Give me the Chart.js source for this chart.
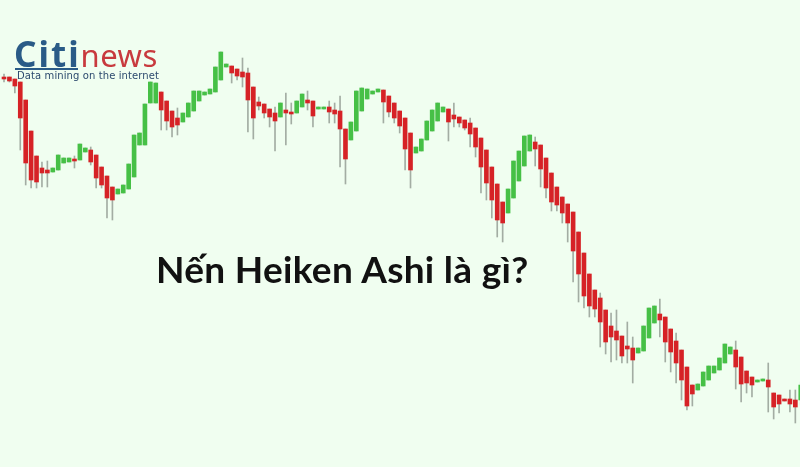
<!DOCTYPE html>
<html>
<head>
<meta charset="utf-8">
<script src="https://cdn.jsdelivr.net/npm/chart.js@4"></script>
<style>
  html, body { margin: 0; padding: 0; background: #f0fef0; }
  #wrap { position: relative; width: 800px; height: 467px; overflow: hidden; }
  #title {
    position: absolute; left: 156px; top: 246px;
    font-family: Lato, sans-serif; font-weight: 700; font-size: 37px; letter-spacing: 0.3px;
    color: #111; white-space: nowrap;
  }
  #logo { position: absolute; left: 14px; top: 30px; white-space: nowrap; }
  #logo .citi { font-family: "Noto Sans", sans-serif; font-size: 35px; font-weight: 700; color: #2a5b87; letter-spacing: 2px; }
  #logo .news { font-family: "Noto Sans", sans-serif; font-size: 31px; color: #c83a3e; letter-spacing: 0.5px; }
  #logo .line { position: absolute; left: 1px; top: 38px; width: 63px; height: 2px; background: #2a5b87; }
  #tag {
    position: absolute; left: 17px; top: 70px;
    font-family: "DejaVu Sans", sans-serif; font-size: 10px; letter-spacing: 0.1px;
    color: #2c4a6e; white-space: nowrap;
  }
</style>
</head>
<body>
<div id="wrap">
  <canvas id="chart"></canvas>
  <div id="logo"><span class="citi">Citi</span><span class="news">news</span><div class="line"></div></div>
  <div id="tag">Data mining on the internet</div>
  <div id="title">Nến Heiken Ashi là gì?</div>
</div>
<script>
// Heiken Ashi candles, one entry per bar (arbitrary price units)
const open = [
  403, 403, 401, 398, 380, 349, 324, 312, 310, 308, 310, 317, 318, 321, 320, 328, 330, 325, 313, 304,
  293, 286, 287, 291, 303, 335, 335, 377, 377, 388, 379, 369, 362, 358, 363, 369, 379, 385, 386, 388,
  400, 413, 414, 411, 408, 407, 393, 378, 376, 371, 367, 363, 370, 368, 367, 373, 380, 379, 371, 371,
  373, 370, 369, 351, 340, 349, 369, 381, 386, 388, 390, 384, 377, 369, 362, 347, 327, 329, 340, 349,
  359, 368, 371, 365, 363, 360, 357, 352, 342, 330, 313, 296, 278, 267, 282, 299, 314, 329, 338, 335,
  322, 307, 293, 283, 276, 268, 248, 227, 206, 190, 182, 170, 154, 149, 144, 134, 132, 127, 129, 142,
  157, 166, 163, 151, 139, 130, 113, 95, 90, 94, 100, 107, 110, 117, 126, 130, 123, 109, 103, 98,
  99, 100, 87, 85, 81, 81, 80, 80
];
const close = [
  401, 399, 394, 362, 317, 300, 298, 307, 307, 312, 325, 322, 322, 319, 336, 332, 318, 302, 295, 282,
  280, 291, 295, 316, 345, 347, 376, 398, 397, 370, 359, 353, 355, 367, 377, 389, 389, 388, 391, 413,
  428, 416, 407, 404, 403, 380, 362, 374, 367, 363, 359, 377, 367, 366, 379, 386, 377, 364, 373, 373,
  368, 366, 351, 321, 358, 389, 392, 391, 389, 391, 378, 368, 362, 354, 331, 310, 333, 341, 359, 370,
  377, 373, 358, 361, 357, 352, 346, 333, 313, 297, 280, 260, 257, 291, 319, 329, 344, 345, 331, 311,
  292, 278, 275, 267, 257, 229, 206, 184, 174, 171, 158, 138, 143, 140, 124, 131, 120, 132, 154, 172,
  174, 160, 138, 128, 117, 100, 74, 86, 96, 108, 114, 114, 122, 136, 133, 113, 96, 97, 95, 100,
  101, 93, 73, 76, 79, 76, 73, 95
];
const high = [
  406, 403, 401, 398, 380, 349, 324, 318, 319, 312, 325, 322, 322, 324, 336, 332, 333, 325, 313, 304,
  293, 291, 295, 316, 345, 347, 376, 398, 397, 388, 379, 369, 372, 367, 377, 389, 389, 388, 391, 413,
  428, 416, 414, 411, 422, 412, 393, 383, 376, 371, 373, 377, 387, 377, 379, 386, 389, 379, 373, 373,
  379, 377, 384, 351, 358, 389, 392, 391, 389, 391, 390, 384, 377, 369, 362, 347, 333, 341, 359, 370,
  377, 373, 371, 377, 363, 360, 362, 352, 342, 330, 313, 296, 278, 291, 319, 329, 344, 345, 343, 335,
  322, 307, 293, 283, 276, 268, 248, 227, 206, 190, 187, 170, 167, 170, 144, 158, 143, 132, 154, 172,
  174, 181, 163, 151, 147, 130, 113, 95, 96, 108, 114, 114, 122, 136, 133, 139, 123, 109, 103, 100,
  101, 117, 87, 85, 81, 90, 90, 98
];
const low = [
  398, 398, 387, 330, 295, 292, 292, 293, 293, 308, 310, 317, 318, 312, 320, 328, 315, 292, 292, 262,
  260, 286, 287, 291, 303, 335, 335, 377, 377, 350, 350, 343, 345, 358, 363, 369, 379, 385, 386, 388,
  400, 413, 397, 400, 393, 348, 341, 370, 362, 353, 329, 363, 335, 356, 367, 373, 370, 353, 371, 371,
  357, 357, 313, 296, 340, 349, 369, 381, 386, 388, 357, 363, 357, 347, 310, 292, 327, 329, 340, 349,
  359, 368, 339, 353, 353, 350, 333, 323, 287, 280, 262, 243, 238, 267, 282, 299, 314, 329, 314, 293,
  282, 269, 269, 257, 238, 198, 178, 172, 163, 163, 133, 126, 118, 120, 117, 117, 97, 127, 129, 142,
  157, 143, 118, 108, 97, 80, 70, 74, 90, 94, 100, 107, 110, 117, 126, 91, 78, 87, 83, 98,
  99, 68, 61, 67, 79, 68, 57, 75
];

const UP = "#46c046";
const DOWN = "#d62226";
const WICK = "#a3ada3";

const idx = open.map((_, i) => i);
const bodies = idx.map(i => ({ x: i, y: [Math.min(open[i], close[i]), Math.max(open[i], close[i])] }));
const wicks = idx.map(i => ({ x: i, y: [low[i], high[i]] }));
const bodyColors = idx.map(i => (close[i] >= open[i] ? UP : DOWN));

new Chart(document.getElementById("chart"), {
  type: "bar",
  data: {
    datasets: [
      {
        label: "body",
        data: bodies,
        backgroundColor: bodyColors,
        barThickness: 4,
        grouped: false,
        borderSkipped: false
      },
      {
        label: "wick",
        data: wicks,
        backgroundColor: WICK,
        barThickness: 1,
        grouped: false
      }
    ]
  },
  options: {
    responsive: true,
    maintainAspectRatio: false,
    animation: false,
    layout: { padding: 0 },
    plugins: { legend: { display: false }, tooltip: { enabled: false } },
    scales: {
      x: { type: "linear", min: -0.74, max: 146.86, offset: false, display: false },
      y: { min: 13, max: 480, display: false }
    }
  }
});
</script>
</body>
</html>
